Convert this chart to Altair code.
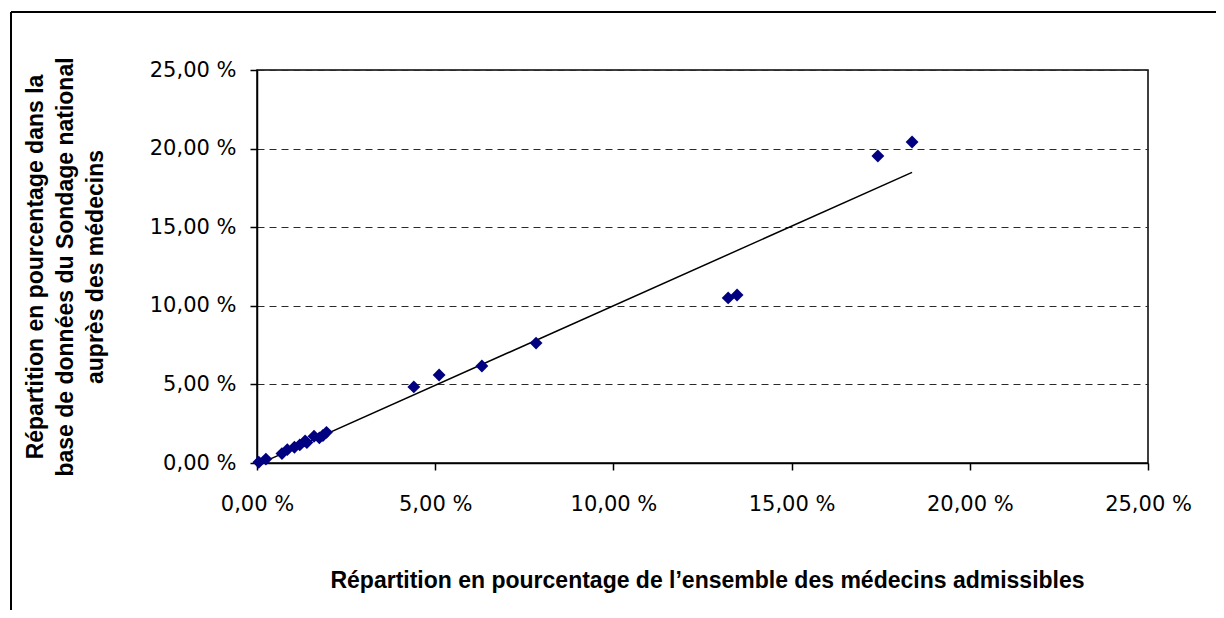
import altair as alt
import pandas as pd

# Répartition (%) — ensemble des médecins admissibles (x) vs base du Sondage (y)
admissibles = [0.05, 0.25, 0.70, 0.85, 1.05, 1.20, 1.35, 1.40, 1.60, 1.75, 1.85, 1.95,
               4.40, 5.11, 6.31, 7.83, 13.22, 13.47, 17.42, 18.38]
sondage = [0.05, 0.25, 0.60, 0.85, 1.00, 1.15, 1.40, 1.30, 1.70, 1.60, 1.75, 1.95,
           4.84, 5.60, 6.17, 7.63, 10.50, 10.69, 19.53, 20.42]
tick_values = [0, 5, 10, 15, 20, 25]
x_title = "Répartition en pourcentage de l’ensemble des médecins admissibles"
y_title = ["Répartition en pourcentage dans la",
           "base de données du Sondage national",
           "auprès des médecins"]

df = pd.DataFrame({"x": admissibles, "y": sondage})
label_expr = "replace(format(datum.value, '.2f'), '.', ',') + ' %'"

W, H = 891, 393

x_enc = alt.X(
    "x:Q",
    scale=alt.Scale(domain=[0, 25], nice=False),
    axis=alt.Axis(
        values=tick_values, labelExpr=label_expr, title=x_title, grid=False,
        tickSize=7, labelPadding=23, labelBaseline="top", labelFlush=False,
        labelAlign="center",
        titleX=450, titleY=117, titleBaseline="middle", titleAlign="center",
    ),
)
y_enc = alt.Y(
    "y:Q",
    scale=alt.Scale(domain=[0, 25], nice=False),
    axis=alt.Axis(
        values=tick_values, labelExpr=label_expr, title=y_title, grid=True,
        gridDash=[7, 5], gridColor="#2a2a2a", gridWidth=1,
        tickSize=7, labelPadding=14, labelFlush=False,
        titleX=-233, titleY=H / 2, titleAngle=270, titleBaseline="top",
        titleAlign="center", titleLineHeight=30,
    ),
)

points = alt.Chart(df).mark_point(
    shape="diamond", filled=True, size=165, color="#000080", opacity=1
).encode(x=x_enc, y=y_enc)

trend = alt.Chart(df).transform_regression("x", "y").mark_line(
    color="black", strokeWidth=1.5
).encode(x=x_enc, y=y_enc)

frame_df = pd.DataFrame({"k": [0]})
frame_left = alt.Chart(frame_df).mark_rule(color="black", strokeWidth=2).encode(
    x=alt.value(-246), y=alt.value(-58), y2=alt.value(540)
)
frame_top = alt.Chart(frame_df).mark_rule(color="black", strokeWidth=2).encode(
    x=alt.value(-246), x2=alt.value(959), y=alt.value(-58)
)

chart = alt.layer(trend, points, frame_left, frame_top).properties(
    width=W, height=H,
    autosize=alt.AutoSizeParams(type="none"),
    padding={"left": 249, "top": 62, "right": 68, "bottom": 147},
).configure_view(
    stroke="black", strokeWidth=1.5
).configure_axis(
    domainColor="black", domainWidth=1.5, tickColor="black", tickWidth=1.5,
    labelColor="black", labelFont="DejaVu Sans", labelFontSize=21,
    titleColor="black", titleFont="Liberation Sans", titleFontWeight="bold",
    titleFontSize=23,
)

chart.save("out.html", embed_options={"renderer": "svg", "actions": False})
